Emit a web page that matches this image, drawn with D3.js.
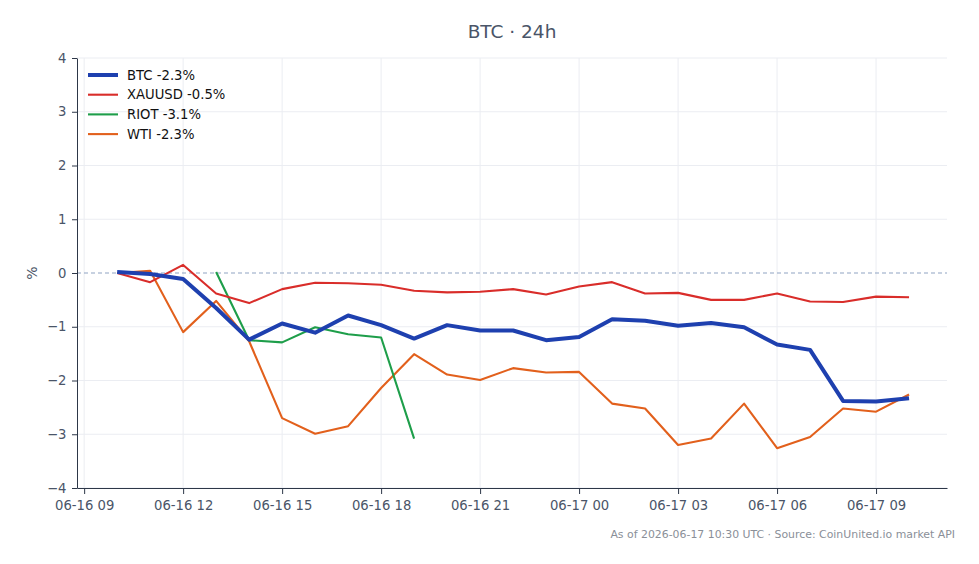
<!DOCTYPE html>
<html>
<head>
<meta charset="utf-8">
<script src="https://cdn.jsdelivr.net/npm/d3@7"></script>
<style>
  body { margin: 0; background: #fff; font-family: "DejaVu Sans", sans-serif; }
  .grid line { stroke: #ebedf2; stroke-width: 1; }
  .axis path, .axis line { stroke: #2d3748; }
  .axis text { fill: #4a5568; font-size: 13.2px; font-family: "DejaVu Sans", sans-serif; }
</style>
</head>
<body>
<div id="chart"></div>
<script>
var width = 979,
    height = 564;
var margin = {top: 58, right: 32, bottom: 76, left: 77};

// hourly points, 06-16 10:00 .. 06-17 10:00 (UTC)
var startTime = Date.UTC(2026, 5, 16, 10);
var btc = [0.02, -0.02, -0.11, -0.65, -1.24, -0.94, -1.11, -0.79, -0.97, -1.22,
           -0.97, -1.07, -1.07, -1.25, -1.19, -0.86, -0.89, -0.98, -0.93, -1.01,
           -1.33, -1.43, -2.38, -2.39, -2.33];
var xauusd = [0.0, -0.17, 0.15, -0.38, -0.56, -0.30, -0.18, -0.19, -0.22, -0.33,
              -0.36, -0.35, -0.30, -0.40, -0.25, -0.17, -0.38, -0.37, -0.50, -0.50,
              -0.38, -0.53, -0.54, -0.44, -0.45];
// RIOT only trades 13:00 .. 19:00
var riotStart = 3;
var riot = [0.02, -1.25, -1.29, -1.01, -1.14, -1.20, -3.08];
var wti = [0.0, 0.04, -1.10, -0.52, -1.27, -2.70, -2.99, -2.85, -2.14, -1.51,
           -1.89, -1.99, -1.77, -1.85, -1.84, -2.43, -2.52, -3.20, -3.08, -2.43,
           -3.26, -3.05, -2.52, -2.58, -2.26];

var names = ["BTC", "XAUUSD", "RIOT", "WTI"];
var colors = ["#1e40af", "#d92d2a", "#1e9e4a", "#e2601c"];
var yTicks = [-4, -3, -2, -1, 0, 1, 2, 3, 4];

function toPoints(values, offset) {
    return values.map(function(v, i) {
        return {t: new Date(startTime + (i + offset) * 3600000), v: v};
    });
}

var series = [
    {name: names[0], color: colors[0], width: 4, pts: toPoints(btc, 0)},
    {name: names[1], color: colors[1], width: 2.1, pts: toPoints(xauusd, 0)},
    {name: names[2], color: colors[2], width: 2.1, pts: toPoints(riot, riotStart)},
    {name: names[3], color: colors[3], width: 2.1, pts: toPoints(wti, 0)}
];

var svg = d3.select("#chart").append("svg")
    .attr("width", width)
    .attr("height", height);

var x = d3.scaleUtc()
    .domain([new Date(Date.UTC(2026, 5, 16, 8, 47)), new Date(Date.UTC(2026, 5, 17, 11, 9))])
    .range([margin.left, width - margin.right]);
var y = d3.scaleLinear()
    .domain([-4, 4])
    .range([height - margin.bottom, margin.top]);

var xTicks = d3.range(9).map(function(i) { return new Date(Date.UTC(2026, 5, 16, 9 + i * 3)); });

// gridlines
svg.append("g").attr("class", "grid")
    .selectAll("line.gx").data(xTicks).enter().append("line")
    .attr("x1", function(d) { return x(d); })
    .attr("x2", function(d) { return x(d); })
    .attr("y1", margin.top)
    .attr("y2", height - margin.bottom);
svg.append("g").attr("class", "grid")
    .selectAll("line.gy").data(yTicks.filter(function(d) { return d != 0; })).enter().append("line")
    .attr("x1", margin.left)
    .attr("x2", width - margin.right)
    .attr("y1", function(d) { return y(d); })
    .attr("y2", function(d) { return y(d); });

// zero reference
svg.append("line")
    .attr("x1", margin.left)
    .attr("x2", width - margin.right)
    .attr("y1", y(0))
    .attr("y2", y(0))
    .attr("stroke", "#8fa3c2")
    .attr("stroke-width", 1)
    .attr("stroke-dasharray", "4,3");

var fmt = d3.utcFormat("%m-%d %H");
svg.append("g").attr("class", "axis")
    .attr("transform", "translate(0," + (height - margin.bottom) + ")")
    .call(d3.axisBottom(x).tickValues(xTicks).tickFormat(fmt).tickSize(6).tickSizeOuter(0))
    .selectAll("text").attr("dy", "1.0em");

svg.append("g").attr("class", "axis")
    .attr("transform", "translate(" + margin.left + ",0)")
    .call(d3.axisLeft(y).tickValues(yTicks).tickFormat(d3.format("d")).tickSize(5).tickSizeOuter(0))
    .selectAll("text").attr("dx", "-0.2em");

svg.append("text")
    .attr("transform", "translate(32," + y(0) + ") rotate(-90)")
    .attr("text-anchor", "middle")
    .attr("dy", "0.35em")
    .attr("fill", "#4a5568")
    .style("font-size", "14px")
    .text("%");

// lines
var line = d3.line()
    .x(function(d) { return x(d.t); })
    .y(function(d) { return y(d.v); });

svg.selectAll("path.series")
    .data(series.slice().reverse()).enter().append("path")
    .attr("class", "series")
    .attr("fill", "none")
    .attr("stroke", function(d) { return d.color; })
    .attr("stroke-width", function(d) { return d.width; })
    .attr("stroke-linejoin", "round")
    .attr("d", function(d) { return line(d.pts); });

// legend
var legend = svg.append("g").attr("transform", "translate(88,75)");
var items = legend.selectAll("g").data(series).enter().append("g")
    .attr("transform", function(d, i) { return "translate(0," + (i * 19.7) + ")"; });
items.append("line")
    .attr("x1", 0).attr("x2", 30)
    .attr("stroke", function(d) { return d.color; })
    .attr("stroke-width", function(d) { return d.width; });
items.append("text")
    .attr("x", 39)
    .attr("dy", "0.35em")
    .style("font-size", "13.2px")
    .attr("fill", "#111")
    .text(function(d) {
        var last = d.pts[d.pts.length - 1].v;
        return d.name + " " + last.toFixed(1) + "%";
    });

// title + footer
svg.append("text")
    .attr("x", (margin.left + width - margin.right) / 2)
    .attr("y", 38)
    .attr("text-anchor", "middle")
    .attr("fill", "#4a5568")
    .style("font-size", "18.5px")
    .text("BTC \u00b7 24h");

svg.append("text")
    .attr("x", 955)
    .attr("y", 538)
    .attr("text-anchor", "end")
    .attr("fill", "#8a8f98")
    .style("font-size", "10.9px")
    .text("As of 2026-06-17 10:30 UTC \u00b7 Source: CoinUnited.io market API");
</script>
</body>
</html>
